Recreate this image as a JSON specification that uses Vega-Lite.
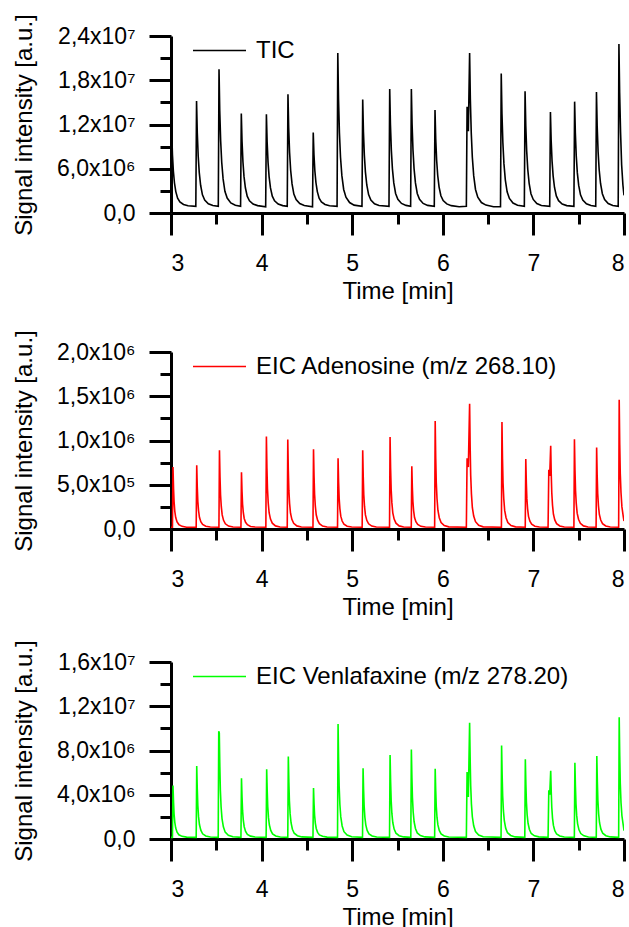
{
"$schema":"https://vega.github.io/schema/vega-lite/v6.json",
"autosize":{"type":"none"},
"padding":{"left":171,"top":36,"right":458,"bottom":891},
"background":"white",
"config":{"font":"Liberation Sans","view":{"stroke":null},
"axis":{"grid":false,"domainColor":"#000000","domainWidth":3,"tickColor":"#000000","tickWidth":3,"labelFont":"Liberation Sans","labelFontSize":23,"labelColor":"#000000","titleFont":"Liberation Sans","titleFontSize":24,"titleFontWeight":"normal","titleColor":"#000000"},
"legend":{"orient":"none","padding":0,"symbolType":"stroke","labelFont":"Liberation Sans","labelFontSize":24,"labelColor":"#000000","labelOffset":9,"labelLimit":0,"symbolSize":2809,"symbolStrokeWidth":1.6}},
"bounds":"flush",
"spacing":139,
"resolve":{"scale":{"color":"independent"}},
"datasets":{
"tic":[
{"t":3.008,"v":10.9e6},{"t":3.016,"v":7.9e6},{"t":3.026,"v":5.7e6},{"t":3.038,"v":4.1e6},{"t":3.053,"v":2.9e6},{"t":3.073,"v":2.0e6},{"t":3.098,"v":1.5e6},{"t":3.138,"v":1.15e6},{"t":3.188,"v":0.98e6},
{"t":3.274,"v":0.9e6},{"t":3.282,"v":15.2e6},{"t":3.29,"v":10.9e6},{"t":3.3,"v":7.76e6},{"t":3.312,"v":5.48e6},{"t":3.327,"v":3.76e6},{"t":3.347,"v":2.47e6},{"t":3.372,"v":1.76e6},{"t":3.412,"v":1.26e6},{"t":3.462,"v":1.01e6},
{"t":3.522,"v":0.9e6},{"t":3.53,"v":19.5e6},{"t":3.538,"v":13.9e6},{"t":3.548,"v":9.83e6},{"t":3.56,"v":6.85e6},{"t":3.575,"v":4.62e6},{"t":3.595,"v":2.95e6},{"t":3.62,"v":2.02e6},{"t":3.66,"v":1.37e6},{"t":3.71,"v":1.05e6},
{"t":3.768,"v":0.9e6},{"t":3.776,"v":13.5e6},{"t":3.784,"v":9.72e6},{"t":3.794,"v":6.95e6},{"t":3.806,"v":4.93e6},{"t":3.821,"v":3.42e6},{"t":3.841,"v":2.29e6},{"t":3.866,"v":1.66e6},{"t":3.906,"v":1.22e6},{"t":3.956,"v":1.0e6},
{"t":4.045,"v":0.85e6},{"t":4.053,"v":13.4e6},{"t":4.061,"v":9.65e6},{"t":4.071,"v":6.9e6},{"t":4.083,"v":4.9e6},{"t":4.098,"v":3.4e6},{"t":4.118,"v":2.28e6},{"t":4.143,"v":1.65e6},{"t":4.183,"v":1.21e6},{"t":4.233,"v":1.0e6},
{"t":4.283,"v":0.9e6},{"t":4.291,"v":16.1e6},{"t":4.299,"v":11.54e6},{"t":4.309,"v":8.2e6},{"t":4.321,"v":5.76e6},{"t":4.336,"v":3.94e6},{"t":4.356,"v":2.57e6},{"t":4.381,"v":1.81e6},{"t":4.421,"v":1.28e6},{"t":4.471,"v":1.02e6},
{"t":4.562,"v":0.85e6},{"t":4.57,"v":10.9e6},{"t":4.578,"v":7.9e6},{"t":4.588,"v":5.7e6},{"t":4.6,"v":4.1e6},{"t":4.615,"v":2.9e6},{"t":4.635,"v":2.0e6},{"t":4.66,"v":1.5e6},{"t":4.7,"v":1.15e6},{"t":4.75,"v":0.98e6},
{"t":4.833,"v":0.9e6},{"t":4.841,"v":21.7e6},{"t":4.849,"v":15.46e6},{"t":4.859,"v":10.88e6},{"t":4.871,"v":7.56e6},{"t":4.886,"v":5.06e6},{"t":4.906,"v":3.19e6},{"t":4.931,"v":2.15e6},{"t":4.971,"v":1.42e6},{"t":5.021,"v":1.07e6},
{"t":5.108,"v":0.9e6},{"t":5.116,"v":15.4e6},{"t":5.124,"v":11.05e6},{"t":5.134,"v":7.86e6},{"t":5.146,"v":5.54e6},{"t":5.161,"v":3.8e6},{"t":5.181,"v":2.5e6},{"t":5.206,"v":1.77e6},{"t":5.246,"v":1.26e6},{"t":5.296,"v":1.02e6},
{"t":5.406,"v":0.9e6},{"t":5.414,"v":16.8e6},{"t":5.422,"v":12.03e6},{"t":5.432,"v":8.53e6},{"t":5.444,"v":5.99e6},{"t":5.459,"v":4.08e6},{"t":5.479,"v":2.65e6},{"t":5.504,"v":1.85e6},{"t":5.544,"v":1.3e6},{"t":5.594,"v":1.03e6},
{"t":5.645,"v":0.9e6},{"t":5.653,"v":16.8e6},{"t":5.661,"v":12.03e6},{"t":5.671,"v":8.53e6},{"t":5.683,"v":5.99e6},{"t":5.698,"v":4.08e6},{"t":5.718,"v":2.65e6},{"t":5.743,"v":1.85e6},{"t":5.783,"v":1.3e6},{"t":5.833,"v":1.03e6},
{"t":5.906,"v":0.9e6},{"t":5.914,"v":13.95e6},{"t":5.922,"v":10.04e6},{"t":5.932,"v":7.16e6},{"t":5.944,"v":5.08e6},{"t":5.959,"v":3.51e6},{"t":5.979,"v":2.34e6},{"t":6.004,"v":1.68e6},{"t":6.044,"v":1.23e6},{"t":6.094,"v":1.0e6},
{"t":6.18,"v":0.85e6},{"t":6.26,"v":0.9e6},{"t":6.268,"v":14.4e6},{"t":6.282,"v":11.1e6},{"t":6.296,"v":21.7e6},{"t":6.304,"v":15.46e6},{"t":6.314,"v":10.88e6},{"t":6.326,"v":7.56e6},{"t":6.341,"v":5.06e6},{"t":6.361,"v":3.19e6},{"t":6.386,"v":2.15e6},{"t":6.426,"v":1.42e6},{"t":6.476,"v":1.07e6},
{"t":6.56,"v":0.85e6},{"t":6.637,"v":0.85e6},{"t":6.645,"v":18.9e6},{"t":6.653,"v":13.5e6},{"t":6.663,"v":9.54e6},{"t":6.675,"v":6.66e6},{"t":6.69,"v":4.5e6},{"t":6.71,"v":2.88e6},{"t":6.735,"v":1.98e6},{"t":6.775,"v":1.35e6},{"t":6.825,"v":1.04e6},
{"t":6.9,"v":0.9e6},{"t":6.908,"v":16.5e6},{"t":6.916,"v":11.82e6},{"t":6.926,"v":8.39e6},{"t":6.938,"v":5.89e6},{"t":6.953,"v":4.02e6},{"t":6.973,"v":2.62e6},{"t":6.998,"v":1.84e6},{"t":7.038,"v":1.29e6},{"t":7.088,"v":1.02e6},
{"t":7.18,"v":0.9e6},{"t":7.188,"v":13.7e6},{"t":7.196,"v":9.86e6},{"t":7.206,"v":7.04e6},{"t":7.218,"v":5.0e6},{"t":7.233,"v":3.46e6},{"t":7.253,"v":2.31e6},{"t":7.278,"v":1.67e6},{"t":7.318,"v":1.22e6},{"t":7.368,"v":1.0e6},
{"t":7.447,"v":0.9e6},{"t":7.455,"v":15.1e6},{"t":7.463,"v":10.84e6},{"t":7.473,"v":7.72e6},{"t":7.485,"v":5.44e6},{"t":7.5,"v":3.74e6},{"t":7.52,"v":2.46e6},{"t":7.545,"v":1.75e6},{"t":7.585,"v":1.26e6},{"t":7.635,"v":1.01e6},
{"t":7.688,"v":0.9e6},{"t":7.696,"v":16.4e6},{"t":7.704,"v":11.75e6},{"t":7.714,"v":8.34e6},{"t":7.726,"v":5.86e6},{"t":7.741,"v":4.0e6},{"t":7.761,"v":2.61e6},{"t":7.786,"v":1.83e6},{"t":7.826,"v":1.29e6},{"t":7.876,"v":1.02e6},
{"t":7.936,"v":0.9e6},{"t":7.944,"v":22.9e6},{"t":7.952,"v":16.3e6},{"t":7.962,"v":11.0e6},{"t":7.974,"v":6.5e6},{"t":7.988,"v":3.8e6},{"t":8.0,"v":2.4e6}
],
"ade":[
{"t":3.0,"v":0.02e6},{"t":3.016,"v":0.02e6},{"t":3.022,"v":0.70e6},{"t":3.028,"v":0.46e6},{"t":3.034,"v":0.31e6},{"t":3.042,"v":0.20e6},{"t":3.052,"v":0.13e6},{"t":3.067,"v":0.08e6},{"t":3.087,"v":0.05e6},{"t":3.122,"v":0.03e6},{"t":3.172,"v":0.02e6},
{"t":3.278,"v":0.02e6},{"t":3.284,"v":0.72e6},{"t":3.29,"v":0.475e6},{"t":3.296,"v":0.314e6},{"t":3.304,"v":0.209e6},{"t":3.314,"v":0.132e6},{"t":3.329,"v":0.083e6},{"t":3.349,"v":0.052e6},{"t":3.384,"v":0.031e6},{"t":3.434,"v":0.022e6},
{"t":3.529,"v":0.02e6},{"t":3.535,"v":0.89e6},{"t":3.541,"v":0.586e6},{"t":3.547,"v":0.385e6},{"t":3.555,"v":0.255e6},{"t":3.565,"v":0.159e6},{"t":3.58,"v":0.098e6},{"t":3.6,"v":0.059e6},{"t":3.635,"v":0.033e6},{"t":3.685,"v":0.023e6},
{"t":3.772,"v":0.02e6},{"t":3.778,"v":0.64e6},{"t":3.784,"v":0.423e6},{"t":3.79,"v":0.28e6},{"t":3.798,"v":0.187e6},{"t":3.808,"v":0.119e6},{"t":3.823,"v":0.076e6},{"t":3.843,"v":0.048e6},{"t":3.878,"v":0.029e6},{"t":3.928,"v":0.022e6},
{"t":4.047,"v":0.02e6},{"t":4.053,"v":1.045e6},{"t":4.059,"v":0.686e6},{"t":4.065,"v":0.451e6},{"t":4.073,"v":0.297e6},{"t":4.083,"v":0.184e6},{"t":4.098,"v":0.112e6},{"t":4.118,"v":0.066e6},{"t":4.153,"v":0.035e6},{"t":4.203,"v":0.023e6},
{"t":4.283,"v":0.02e6},{"t":4.289,"v":1.01e6},{"t":4.295,"v":0.664e6},{"t":4.301,"v":0.436e6},{"t":4.309,"v":0.287e6},{"t":4.319,"v":0.178e6},{"t":4.334,"v":0.109e6},{"t":4.354,"v":0.065e6},{"t":4.389,"v":0.035e6},{"t":4.439,"v":0.023e6},
{"t":4.567,"v":0.02e6},{"t":4.573,"v":0.90e6},{"t":4.579,"v":0.592e6},{"t":4.585,"v":0.39e6},{"t":4.593,"v":0.258e6},{"t":4.603,"v":0.161e6},{"t":4.618,"v":0.099e6},{"t":4.638,"v":0.06e6},{"t":4.673,"v":0.033e6},{"t":4.723,"v":0.023e6},
{"t":4.838,"v":0.02e6},{"t":4.844,"v":0.80e6},{"t":4.85,"v":0.527e6},{"t":4.856,"v":0.348e6},{"t":4.864,"v":0.231e6},{"t":4.874,"v":0.145e6},{"t":4.889,"v":0.09e6},{"t":4.909,"v":0.055e6},{"t":4.944,"v":0.032e6},{"t":4.994,"v":0.022e6},
{"t":5.11,"v":0.02e6},{"t":5.116,"v":0.89e6},{"t":5.122,"v":0.586e6},{"t":5.128,"v":0.385e6},{"t":5.136,"v":0.255e6},{"t":5.146,"v":0.159e6},{"t":5.161,"v":0.098e6},{"t":5.181,"v":0.059e6},{"t":5.216,"v":0.033e6},{"t":5.266,"v":0.023e6},
{"t":5.412,"v":0.02e6},{"t":5.418,"v":1.04e6},{"t":5.424,"v":0.683e6},{"t":5.43,"v":0.448e6},{"t":5.438,"v":0.295e6},{"t":5.448,"v":0.183e6},{"t":5.463,"v":0.112e6},{"t":5.483,"v":0.066e6},{"t":5.518,"v":0.035e6},{"t":5.568,"v":0.023e6},
{"t":5.652,"v":0.02e6},{"t":5.658,"v":0.71e6},{"t":5.664,"v":0.469e6},{"t":5.67,"v":0.31e6},{"t":5.678,"v":0.206e6},{"t":5.688,"v":0.13e6},{"t":5.703,"v":0.082e6},{"t":5.723,"v":0.051e6},{"t":5.758,"v":0.03e6},{"t":5.808,"v":0.022e6},
{"t":5.91,"v":0.02e6},{"t":5.916,"v":1.22e6},{"t":5.922,"v":0.80e6},{"t":5.928,"v":0.524e6},{"t":5.936,"v":0.344e6},{"t":5.946,"v":0.212e6},{"t":5.961,"v":0.128e6},{"t":5.981,"v":0.074e6},{"t":6.016,"v":0.038e6},{"t":6.066,"v":0.024e6},
{"t":6.26,"v":0.02e6},{"t":6.268,"v":0.80e6},{"t":6.282,"v":0.70e6},{"t":6.296,"v":1.415e6},{"t":6.302,"v":0.927e6},{"t":6.308,"v":0.606e6},{"t":6.316,"v":0.397e6},{"t":6.326,"v":0.243e6},{"t":6.341,"v":0.146e6},{"t":6.361,"v":0.083e6},{"t":6.396,"v":0.041e6},{"t":6.446,"v":0.024e6},
{"t":6.647,"v":0.02e6},{"t":6.653,"v":1.21e6},{"t":6.659,"v":0.794e6},{"t":6.665,"v":0.52e6},{"t":6.673,"v":0.341e6},{"t":6.683,"v":0.21e6},{"t":6.698,"v":0.127e6},{"t":6.718,"v":0.074e6},{"t":6.753,"v":0.038e6},{"t":6.803,"v":0.024e6},
{"t":6.91,"v":0.02e6},{"t":6.916,"v":0.79e6},{"t":6.922,"v":0.52e6},{"t":6.928,"v":0.343e6},{"t":6.936,"v":0.228e6},{"t":6.946,"v":0.143e6},{"t":6.961,"v":0.089e6},{"t":6.981,"v":0.055e6},{"t":7.016,"v":0.032e6},{"t":7.066,"v":0.022e6},
{"t":7.162,"v":0.02e6},{"t":7.17,"v":0.67e6},{"t":7.18,"v":0.60e6},{"t":7.191,"v":0.94e6},{"t":7.197,"v":0.618e6},{"t":7.203,"v":0.406e6},{"t":7.211,"v":0.268e6},{"t":7.221,"v":0.167e6},{"t":7.236,"v":0.103e6},{"t":7.256,"v":0.061e6},{"t":7.291,"v":0.034e6},{"t":7.341,"v":0.023e6},
{"t":7.447,"v":0.02e6},{"t":7.453,"v":1.015e6},{"t":7.459,"v":0.667e6},{"t":7.465,"v":0.438e6},{"t":7.473,"v":0.289e6},{"t":7.483,"v":0.179e6},{"t":7.498,"v":0.11e6},{"t":7.518,"v":0.065e6},{"t":7.553,"v":0.035e6},{"t":7.603,"v":0.023e6},
{"t":7.692,"v":0.02e6},{"t":7.698,"v":0.92e6},{"t":7.704,"v":0.605e6},{"t":7.71,"v":0.398e6},{"t":7.718,"v":0.263e6},{"t":7.728,"v":0.164e6},{"t":7.743,"v":0.101e6},{"t":7.763,"v":0.061e6},{"t":7.798,"v":0.034e6},{"t":7.848,"v":0.023e6},
{"t":7.941,"v":0.02e6},{"t":7.947,"v":1.46e6},{"t":7.953,"v":0.956e6},{"t":7.959,"v":0.625e6},{"t":7.967,"v":0.409e6},{"t":7.977,"v":0.25e6},{"t":7.992,"v":0.14e6},{"t":8.0,"v":0.09e6}
],
"ven":[
{"t":3.0,"v":0.15e6},{"t":3.016,"v":0.15e6},{"t":3.022,"v":4.83e6},{"t":3.028,"v":3.33e6},{"t":3.034,"v":2.26e6},{"t":3.042,"v":1.51e6},{"t":3.052,"v":0.99e6},{"t":3.067,"v":0.62e6},{"t":3.087,"v":0.38e6},{"t":3.122,"v":0.24e6},{"t":3.172,"v":0.17e6},
{"t":3.278,"v":0.15e6},{"t":3.284,"v":6.6e6},{"t":3.29,"v":4.54e6},{"t":3.296,"v":3.05e6},{"t":3.304,"v":2.02e6},{"t":3.314,"v":1.31e6},{"t":3.329,"v":0.8e6},{"t":3.349,"v":0.47e6},{"t":3.384,"v":0.28e6},{"t":3.434,"v":0.18e6},
{"t":3.521,"v":0.15e6},{"t":3.527,"v":9.75e6},{"t":3.533,"v":9.6e6},{"t":3.539,"v":6.58e6},{"t":3.545,"v":4.4e6},{"t":3.553,"v":2.89e6},{"t":3.563,"v":1.85e6},{"t":3.578,"v":1.1e6},{"t":3.598,"v":0.62e6},{"t":3.633,"v":0.34e6},{"t":3.683,"v":0.2e6},
{"t":3.772,"v":0.15e6},{"t":3.778,"v":5.5e6},{"t":3.784,"v":3.79e6},{"t":3.79,"v":2.56e6},{"t":3.798,"v":1.7e6},{"t":3.808,"v":1.11e6},{"t":3.823,"v":0.69e6},{"t":3.843,"v":0.42e6},{"t":3.878,"v":0.26e6},{"t":3.928,"v":0.18e6},
{"t":4.05,"v":0.15e6},{"t":4.056,"v":6.3e6},{"t":4.062,"v":4.33e6},{"t":4.068,"v":2.92e6},{"t":4.076,"v":1.93e6},{"t":4.086,"v":1.26e6},{"t":4.101,"v":0.77e6},{"t":4.121,"v":0.46e6},{"t":4.156,"v":0.27e6},{"t":4.206,"v":0.18e6},
{"t":4.289,"v":0.15e6},{"t":4.295,"v":7.46e6},{"t":4.301,"v":5.12e6},{"t":4.307,"v":3.44e6},{"t":4.315,"v":2.27e6},{"t":4.325,"v":1.47e6},{"t":4.34,"v":0.88e6},{"t":4.36,"v":0.52e6},{"t":4.395,"v":0.3e6},{"t":4.445,"v":0.19e6},
{"t":4.567,"v":0.15e6},{"t":4.573,"v":4.6e6},{"t":4.579,"v":3.18e6},{"t":4.585,"v":2.15e6},{"t":4.593,"v":1.44e6},{"t":4.603,"v":0.95e6},{"t":4.618,"v":0.6e6},{"t":4.638,"v":0.37e6},{"t":4.673,"v":0.24e6},{"t":4.723,"v":0.17e6},
{"t":4.838,"v":0.15e6},{"t":4.844,"v":10.4e6},{"t":4.85,"v":7.12e6},{"t":4.856,"v":4.76e6},{"t":4.864,"v":3.12e6},{"t":4.874,"v":2.0e6},{"t":4.889,"v":1.18e6},{"t":4.909,"v":0.66e6},{"t":4.944,"v":0.36e6},{"t":4.994,"v":0.2e6},
{"t":5.114,"v":0.15e6},{"t":5.12,"v":6.4e6},{"t":5.126,"v":4.4e6},{"t":5.132,"v":2.96e6},{"t":5.14,"v":1.96e6},{"t":5.15,"v":1.28e6},{"t":5.165,"v":0.78e6},{"t":5.185,"v":0.46e6},{"t":5.22,"v":0.28e6},{"t":5.27,"v":0.18e6},
{"t":5.412,"v":0.15e6},{"t":5.418,"v":7.6e6},{"t":5.424,"v":5.22e6},{"t":5.43,"v":3.5e6},{"t":5.438,"v":2.31e6},{"t":5.448,"v":1.49e6},{"t":5.463,"v":0.9e6},{"t":5.483,"v":0.52e6},{"t":5.518,"v":0.3e6},{"t":5.568,"v":0.19e6},
{"t":5.647,"v":0.15e6},{"t":5.653,"v":8.1e6},{"t":5.659,"v":5.56e6},{"t":5.665,"v":3.73e6},{"t":5.673,"v":2.46e6},{"t":5.683,"v":1.58e6},{"t":5.698,"v":0.95e6},{"t":5.718,"v":0.55e6},{"t":5.753,"v":0.31e6},{"t":5.803,"v":0.19e6},
{"t":5.91,"v":0.15e6},{"t":5.916,"v":6.35e6},{"t":5.922,"v":4.37e6},{"t":5.928,"v":2.94e6},{"t":5.936,"v":1.95e6},{"t":5.946,"v":1.27e6},{"t":5.961,"v":0.77e6},{"t":5.981,"v":0.46e6},{"t":6.016,"v":0.27e6},{"t":6.066,"v":0.18e6},
{"t":6.26,"v":0.15e6},{"t":6.268,"v":6.05e6},{"t":6.282,"v":3.8e6},{"t":6.296,"v":10.5e6},{"t":6.302,"v":7.19e6},{"t":6.308,"v":4.81e6},{"t":6.316,"v":3.15e6},{"t":6.326,"v":2.01e6},{"t":6.341,"v":1.19e6},{"t":6.361,"v":0.67e6},{"t":6.396,"v":0.36e6},{"t":6.446,"v":0.2e6},
{"t":6.643,"v":0.15e6},{"t":6.649,"v":8.46e6},{"t":6.655,"v":5.8e6},{"t":6.661,"v":3.89e6},{"t":6.669,"v":2.56e6},{"t":6.679,"v":1.65e6},{"t":6.694,"v":0.98e6},{"t":6.714,"v":0.57e6},{"t":6.749,"v":0.32e6},{"t":6.799,"v":0.19e6},
{"t":6.905,"v":0.15e6},{"t":6.911,"v":7.2e6},{"t":6.917,"v":4.94e6},{"t":6.923,"v":3.32e6},{"t":6.931,"v":2.19e6},{"t":6.941,"v":1.42e6},{"t":6.956,"v":0.86e6},{"t":6.976,"v":0.5e6},{"t":7.011,"v":0.29e6},{"t":7.061,"v":0.19e6},
{"t":7.162,"v":0.15e6},{"t":7.17,"v":4.4e6},{"t":7.18,"v":4.0e6},{"t":7.191,"v":6.16e6},{"t":7.197,"v":4.24e6},{"t":7.203,"v":2.85e6},{"t":7.211,"v":1.89e6},{"t":7.221,"v":1.23e6},{"t":7.236,"v":0.75e6},{"t":7.256,"v":0.45e6},{"t":7.291,"v":0.27e6},{"t":7.341,"v":0.18e6},
{"t":7.452,"v":0.15e6},{"t":7.458,"v":6.9e6},{"t":7.464,"v":4.74e6},{"t":7.47,"v":3.19e6},{"t":7.478,"v":2.11e6},{"t":7.488,"v":1.37e6},{"t":7.503,"v":0.83e6},{"t":7.523,"v":0.49e6},{"t":7.558,"v":0.29e6},{"t":7.608,"v":0.18e6},
{"t":7.694,"v":0.15e6},{"t":7.7,"v":7.5e6},{"t":7.706,"v":5.15e6},{"t":7.712,"v":3.46e6},{"t":7.72,"v":2.28e6},{"t":7.73,"v":1.47e6},{"t":7.745,"v":0.89e6},{"t":7.765,"v":0.52e6},{"t":7.8,"v":0.3e6},{"t":7.85,"v":0.19e6},
{"t":7.941,"v":0.15e6},{"t":7.947,"v":11.0e6},{"t":7.953,"v":7.53e6},{"t":7.959,"v":5.03e6},{"t":7.967,"v":3.3e6},{"t":7.977,"v":2.1e6},{"t":7.992,"v":1.24e6},{"t":8.0,"v":0.75e6}
]
},
"vconcat":[
{"width":453,"height":177,"data":{"name":"tic"},
"layer":[
{"mark":{"type":"line","strokeWidth":1.6,"clip":true},
"encoding":{
"x":{"field":"t","type":"quantitative","scale":{"domain":[3,8],"nice":false,"zero":false},"axis":{"orient":"bottom","values":[3,4,5,6,7,8],"format":"d","tickSize":22,"labelPadding":17,"title":"Time [min]","titlePadding":4}},
"y":{"field":"v","type":"quantitative","scale":{"domain":[0,24000000],"nice":false},"axis":{"orient":"left","values":[0,6000000,12000000,18000000,24000000],"tickSize":22,"labelPadding":14,"title":"Signal intensity [a.u.]","titlePadding":20,"labelExpr":"datum.value == 0 ? '0,0' : replace(format(datum.value / pow(10, floor(log(datum.value) / LN10 + 1e-9)), '.1f'), '.', ',') + 'x10' + ['⁰','¹','²','³','⁴','⁵','⁶','⁷','⁸','⁹'][floor(log(datum.value) / LN10 + 1e-9)]"}},
"color":{"datum":"TIC","type":"nominal","scale":{"range":["#000000"]},"legend":{"title":null,"orient":"none","legendX":21,"legendY":-13}}
}},
{"mark":{"type":"line","opacity":0,"clip":true},
"encoding":{
"x":{"field":"t","type":"quantitative","axis":{"orient":"bottom","values":[3.5,4.5,5.5,6.5,7.5],"tickSize":11,"labels":false,"domain":false,"title":null}},
"y":{"field":"v","type":"quantitative","axis":{"orient":"left","values":[3000000,9000000,15000000,21000000],"tickSize":11,"labels":false,"domain":false,"title":null}}
}}
],
"resolve":{"axis":{"x":"independent","y":"independent"}}
},
{"vconcat":[
{"width":453,"height":177,"data":{"name":"ade"},
"layer":[
{"mark":{"type":"line","strokeWidth":1.6,"clip":true},
"encoding":{
"x":{"field":"t","type":"quantitative","scale":{"domain":[3,8],"nice":false,"zero":false},"axis":{"orient":"bottom","values":[3,4,5,6,7,8],"format":"d","tickSize":22,"labelPadding":17,"title":"Time [min]","titlePadding":4}},
"y":{"field":"v","type":"quantitative","scale":{"domain":[0,2000000],"nice":false},"axis":{"orient":"left","values":[0,500000,1000000,1500000,2000000],"tickSize":22,"labelPadding":14,"title":"Signal intensity [a.u.]","titlePadding":20,"labelExpr":"datum.value == 0 ? '0,0' : replace(format(datum.value / pow(10, floor(log(datum.value) / LN10 + 1e-9)), '.1f'), '.', ',') + 'x10' + ['⁰','¹','²','³','⁴','⁵','⁶','⁷','⁸','⁹'][floor(log(datum.value) / LN10 + 1e-9)]"}},
"color":{"datum":"EIC Adenosine (m/z 268.10)","type":"nominal","scale":{"range":["#ff0000"]},"legend":{"title":null,"orient":"none","legendX":21,"legendY":-13}}
}},
{"mark":{"type":"line","opacity":0,"clip":true},
"encoding":{
"x":{"field":"t","type":"quantitative","axis":{"orient":"bottom","values":[3.5,4.5,5.5,6.5,7.5],"tickSize":11,"labels":false,"domain":false,"title":null}},
"y":{"field":"v","type":"quantitative","axis":{"orient":"left","values":[250000,750000,1250000,1750000],"tickSize":11,"labels":false,"domain":false,"title":null}}
}}
],
"resolve":{"axis":{"x":"independent","y":"independent"}}
},
{"width":453,"height":177,"data":{"name":"ven"},
"layer":[
{"mark":{"type":"line","strokeWidth":1.6,"clip":true},
"encoding":{
"x":{"field":"t","type":"quantitative","scale":{"domain":[3,8],"nice":false,"zero":false},"axis":{"orient":"bottom","values":[3,4,5,6,7,8],"format":"d","tickSize":22,"labelPadding":17,"title":"Time [min]","titlePadding":4}},
"y":{"field":"v","type":"quantitative","scale":{"domain":[0,16000000],"nice":false},"axis":{"orient":"left","values":[0,4000000,8000000,12000000,16000000],"tickSize":22,"labelPadding":14,"title":"Signal intensity [a.u.]","titlePadding":20,"labelExpr":"datum.value == 0 ? '0,0' : replace(format(datum.value / pow(10, floor(log(datum.value) / LN10 + 1e-9)), '.1f'), '.', ',') + 'x10' + ['⁰','¹','²','³','⁴','⁵','⁶','⁷','⁸','⁹'][floor(log(datum.value) / LN10 + 1e-9)]"}},
"color":{"datum":"EIC Venlafaxine (m/z 278.20)","type":"nominal","scale":{"range":["#00ff00"]},"legend":{"title":null,"orient":"none","legendX":21,"legendY":-13}}
}},
{"mark":{"type":"line","opacity":0,"clip":true},
"encoding":{
"x":{"field":"t","type":"quantitative","axis":{"orient":"bottom","values":[3.5,4.5,5.5,6.5,7.5],"tickSize":11,"labels":false,"domain":false,"title":null}},
"y":{"field":"v","type":"quantitative","axis":{"orient":"left","values":[2000000,6000000,10000000,14000000],"tickSize":11,"labels":false,"domain":false,"title":null}}
}}
],
"resolve":{"axis":{"x":"independent","y":"independent"}}
}
],
"bounds":"flush",
"spacing":133,
"resolve":{"scale":{"color":"independent"}}
}
]
}
